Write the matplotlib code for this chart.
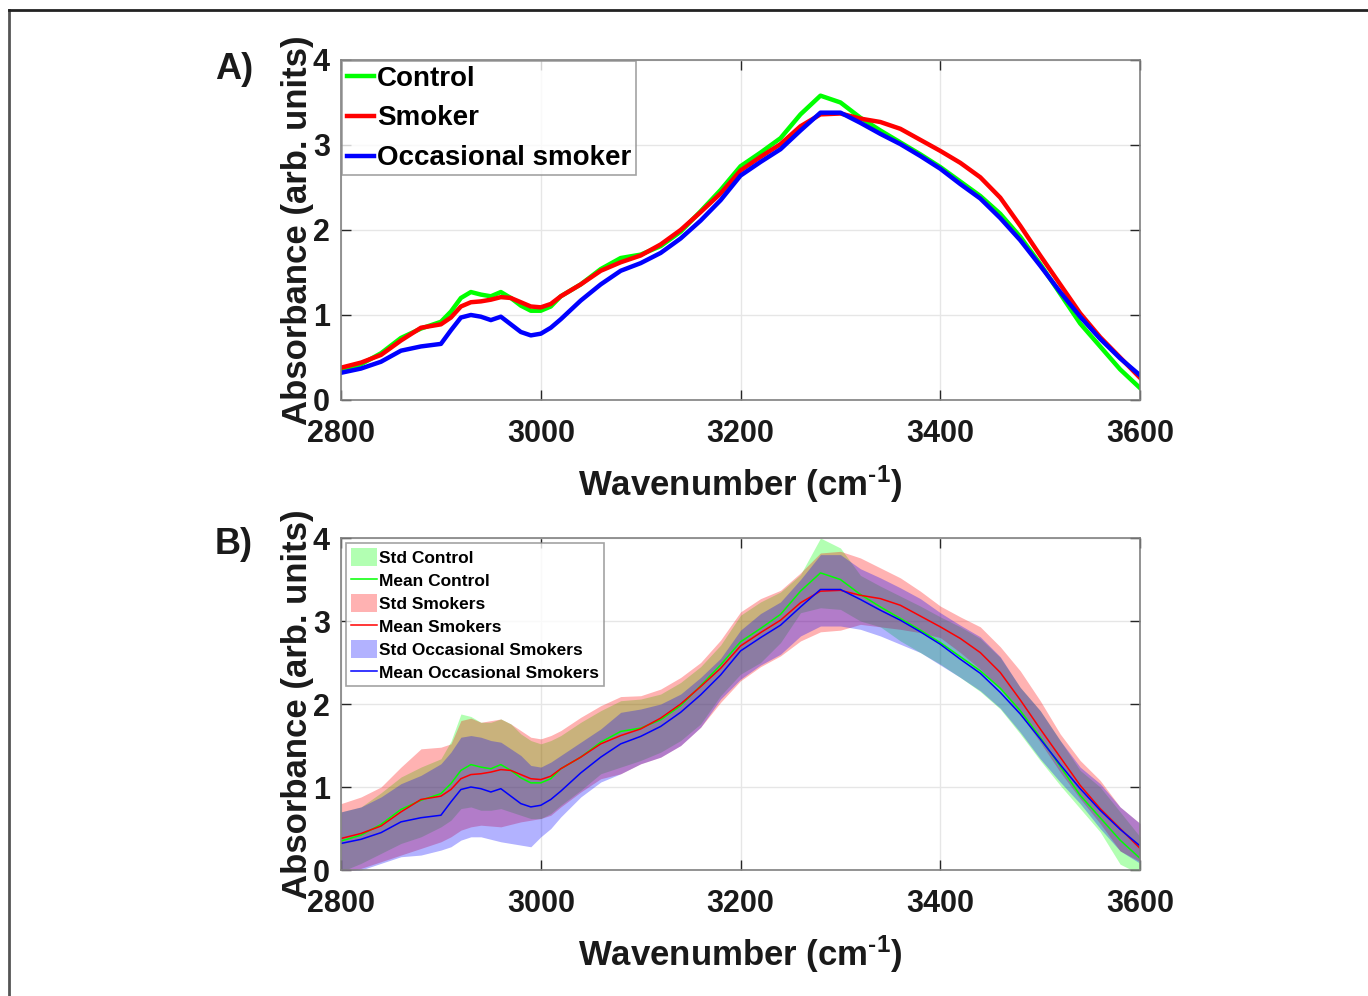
import matplotlib
matplotlib.use("Agg")
import matplotlib.pyplot as plt
from matplotlib.lines import Line2D
import numpy as np

plt.rcParams['font.family'] = ['Liberation Sans', 'DejaVu Sans']
plt.rcParams['font.weight'] = 'bold'
plt.rcParams['mathtext.fontset'] = 'custom'
plt.rcParams['mathtext.rm'] = 'Liberation Sans:bold'
plt.rcParams['mathtext.it'] = 'Liberation Sans:bold'
plt.rcParams['mathtext.bf'] = 'Liberation Sans:bold'

# wavenumbers (cm-1)
wn = [2800, 2820, 2840, 2860, 2880, 2900, 2910, 2920, 2930, 2940, 2950, 2960,
      2970, 2980, 2990, 3000, 3010, 3020, 3040, 3060, 3080, 3100, 3120, 3140,
      3160, 3180, 3200, 3220, 3240, 3260, 3280, 3300, 3320, 3340, 3360, 3380,
      3400, 3420, 3440, 3460, 3480, 3500, 3520, 3540, 3560, 3580, 3600]

# mean spectra
ctrl_mean = [0.35, 0.42, 0.55, 0.73, 0.84, 0.92, 1.04, 1.20, 1.27, 1.24, 1.22, 1.27,
             1.20, 1.11, 1.05, 1.05, 1.10, 1.22, 1.36, 1.54, 1.67, 1.71, 1.81, 1.98,
             2.22, 2.47, 2.75, 2.91, 3.08, 3.36, 3.58, 3.50, 3.32, 3.17, 3.03, 2.89,
             2.74, 2.57, 2.40, 2.19, 1.92, 1.60, 1.25, 0.90, 0.63, 0.36, 0.14]
smk_mean = [0.38, 0.44, 0.53, 0.70, 0.85, 0.89, 0.97, 1.10, 1.15, 1.16, 1.18, 1.21,
            1.20, 1.15, 1.10, 1.09, 1.13, 1.22, 1.36, 1.52, 1.62, 1.70, 1.83, 2.00,
            2.21, 2.43, 2.70, 2.86, 3.01, 3.22, 3.36, 3.37, 3.31, 3.27, 3.19, 3.06,
            2.93, 2.79, 2.62, 2.38, 2.05, 1.70, 1.36, 1.02, 0.74, 0.50, 0.26]
occ_mean = [0.32, 0.37, 0.45, 0.58, 0.63, 0.66, 0.82, 0.97, 1.00, 0.98, 0.94, 0.98,
            0.89, 0.80, 0.76, 0.78, 0.85, 0.95, 1.17, 1.36, 1.52, 1.61, 1.73, 1.90,
            2.11, 2.35, 2.64, 2.80, 2.95, 3.17, 3.38, 3.38, 3.26, 3.13, 3.01, 2.87,
            2.72, 2.54, 2.37, 2.14, 1.88, 1.58, 1.27, 0.98, 0.72, 0.49, 0.29]

# std envelopes (upper / lower edge)
ctrl_hi = [0.70, 0.76, 0.93, 1.12, 1.24, 1.34, 1.55, 1.88, 1.85, 1.78, 1.78, 1.82,
           1.76, 1.64, 1.56, 1.52, 1.56, 1.62, 1.78, 1.92, 2.04, 2.06, 2.12, 2.26,
           2.45, 2.71, 3.07, 3.23, 3.35, 3.56, 4.00, 3.88, 3.55, 3.42, 3.30, 3.18,
           3.05, 2.93, 2.79, 2.56, 2.20, 1.92, 1.56, 1.20, 1.00, 0.70, 0.40]
ctrl_lo = [-0.02, 0.08, 0.20, 0.32, 0.40, 0.52, 0.60, 0.74, 0.76, 0.72, 0.72, 0.74,
           0.70, 0.66, 0.62, 0.62, 0.68, 0.78, 0.96, 1.16, 1.24, 1.32, 1.42, 1.56,
           1.76, 2.10, 2.36, 2.50, 2.74, 3.10, 3.16, 3.14, 3.00, 2.93, 2.76, 2.62,
           2.48, 2.32, 2.15, 1.94, 1.64, 1.32, 1.02, 0.74, 0.46, 0.07, -0.05]
smk_hi = [0.80, 0.88, 1.00, 1.24, 1.46, 1.48, 1.52, 1.80, 1.83, 1.78, 1.80, 1.82,
          1.76, 1.68, 1.60, 1.58, 1.62, 1.68, 1.84, 1.98, 2.09, 2.10, 2.18, 2.32,
          2.50, 2.77, 3.11, 3.27, 3.37, 3.58, 3.82, 3.84, 3.76, 3.64, 3.52, 3.36,
          3.18, 3.05, 2.93, 2.69, 2.40, 2.04, 1.64, 1.32, 1.08, 0.76, 0.56]
smk_lo = [-0.05, 0.02, 0.10, 0.18, 0.26, 0.34, 0.40, 0.48, 0.52, 0.54, 0.53, 0.52,
          0.55, 0.58, 0.60, 0.62, 0.66, 0.76, 0.94, 1.10, 1.16, 1.28, 1.36, 1.50,
          1.72, 2.02, 2.28, 2.45, 2.58, 2.76, 2.87, 2.89, 2.96, 2.93, 2.90, 2.86,
          2.80, 2.62, 2.42, 2.18, 1.88, 1.54, 1.18, 0.86, 0.56, 0.23, 0.10]
occ_hi = [0.70, 0.76, 0.88, 1.04, 1.14, 1.28, 1.42, 1.60, 1.62, 1.60, 1.56, 1.54,
          1.46, 1.38, 1.26, 1.24, 1.30, 1.38, 1.54, 1.70, 1.90, 1.94, 2.00, 2.12,
          2.32, 2.55, 2.89, 3.09, 3.23, 3.50, 3.80, 3.80, 3.63, 3.52, 3.40, 3.27,
          3.10, 2.95, 2.81, 2.57, 2.20, 1.92, 1.56, 1.24, 1.04, 0.76, 0.56]
occ_lo = [-0.05, 0.00, 0.08, 0.16, 0.18, 0.24, 0.28, 0.36, 0.40, 0.40, 0.37, 0.34,
          0.32, 0.30, 0.28, 0.40, 0.50, 0.64, 0.88, 1.06, 1.16, 1.28, 1.36, 1.50,
          1.72, 2.06, 2.30, 2.47, 2.60, 2.82, 2.94, 2.94, 2.90, 2.82, 2.72, 2.62,
          2.47, 2.32, 2.16, 1.95, 1.66, 1.34, 1.06, 0.80, 0.50, 0.23, 0.08]

xticks = [2800, 3000, 3200, 3400, 3600]
yticks = [0, 1, 2, 3, 4]

fig = plt.figure(figsize=(13.68, 9.96), dpi=100)

# outer frame (left and top edge only)
fig.add_artist(Line2D([0.0066, 0.0066], [0.0, 0.99], color='#555555', lw=2))
fig.add_artist(Line2D([0.0066, 1.0], [0.99, 0.99], color='#222222', lw=2))

axA = fig.add_axes([0.2493, 0.5984, 0.5841, 0.3414])
axB = fig.add_axes([0.2493, 0.1265, 0.5841, 0.3333])


def style_axes(ax):
    ax.set_xlim(2800, 3600)
    ax.set_ylim(0, 4)
    ax.set_xticks(xticks)
    ax.set_yticks(yticks)
    ax.grid(True, color='#e6e6e6', linewidth=1)
    ax.set_axisbelow(True)
    ax.tick_params(direction='in', length=7, width=1, color='#262626',
                   top=True, right=True, labelsize=22, labelcolor='#1a1a1a')
    ax.tick_params(axis='x', pad=14)
    ax.tick_params(axis='y', pad=8)
    for lab in ax.get_xticklabels() + ax.get_yticklabels():
        lab.set_fontweight('bold')
    for sp in ax.spines.values():
        sp.set_color('#808080')
        sp.set_linewidth(1.2)
    ax.set_xlabel('Wavenumber (cm$^{\\text{-1}}$)', fontsize=25, fontweight='bold',
                  color='#1a1a1a', labelpad=10)
    ax.set_ylabel('Absorbance (arb. units)', fontsize=25, fontweight='bold',
                  color='#1a1a1a', labelpad=-1)


# Panel A - mean spectra
axA.plot(wn, ctrl_mean, color=(0, 1, 0), lw=3.2, label='Control')
axA.plot(wn, smk_mean, color=(1, 0, 0), lw=3.2, label='Smoker')
axA.plot(wn, occ_mean, color=(0, 0, 1), lw=3.2, label='Occasional smoker')
style_axes(axA)
legA = axA.legend(loc='upper left', fontsize=20, frameon=True, fancybox=False,
                  edgecolor='#8c8c8c', handlelength=1.0, handletextpad=0.1,
                  borderpad=0.15, labelspacing=0.5, borderaxespad=0.05)
legA.get_frame().set_linewidth(1.2)
for t in legA.get_texts():
    t.set_fontweight('bold')

# Panel B - mean +/- std
axB.fill_between(wn, ctrl_lo, ctrl_hi, color=(0, 1, 0), alpha=0.3, lw=0,
                 label='Std Control')
axB.plot(wn, ctrl_mean, color=(0, 1, 0), lw=1.1, label='Mean Control')
axB.fill_between(wn, smk_lo, smk_hi, color=(1, 0, 0), alpha=0.3, lw=0,
                 label='Std Smokers')
axB.plot(wn, smk_mean, color=(1, 0, 0), lw=1.1, label='Mean Smokers')
axB.fill_between(wn, occ_lo, occ_hi, color=(0, 0, 1), alpha=0.3, lw=0,
                 label='Std Occasional Smokers')
axB.plot(wn, occ_mean, color=(0, 0, 1), lw=1.1, label='Mean Occasional Smokers')
style_axes(axB)
legB = axB.legend(loc='upper left', fontsize=12.5, frameon=True, fancybox=False,
                  edgecolor='#8c8c8c', handlelength=1.45, handleheight=1.2,
                  handletextpad=0.15, borderpad=0.3, labelspacing=0.3,
                  borderaxespad=0.3)
legB.get_frame().set_linewidth(1.2)
for t in legB.get_texts():
    t.set_fontweight('bold')

fig.text(0.157, 0.93, 'A)', fontsize=26, fontweight='bold', color='#1a1a1a',
         va='center')
fig.text(0.157, 0.453, 'B)', fontsize=26, fontweight='bold', color='#1a1a1a',
         va='center')

fig.savefig('out.png', dpi=100)
